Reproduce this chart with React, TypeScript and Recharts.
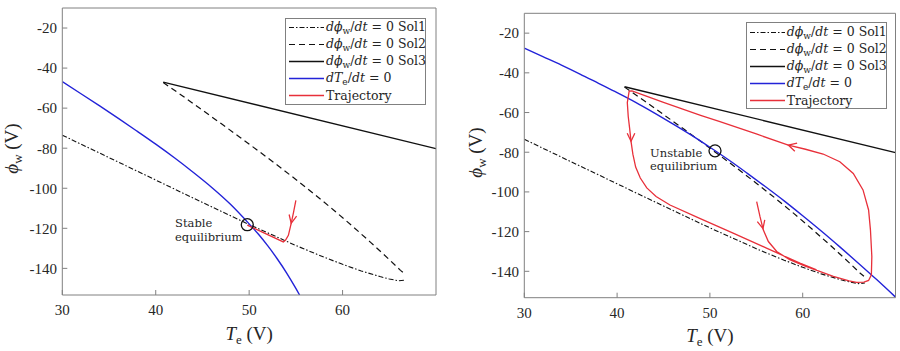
import React from "react";
import { LineChart, Line, XAxis, YAxis, ReferenceDot, Label } from "recharts";

const FONT = "Liberation Serif";
const NOTE_FONT = "DejaVu Serif";
const INK = "#262626";
const FRAME = "#808080";
const BLUE = "#2323d8";
const RED = "#e8303a";

// axes
const xDomain = [30, 70];
const yDomain = [-153.3, -10];
const xTicks = [30, 40, 50, 60];
const yTicks = [-140, -120, -100, -80, -60, -40, -20];

// d(phi_w)/dt = 0 branches, identical in both panels  [Te, phi_w]
const sol1 = [
  [30, -73.5], [35, -84.7], [40, -95.9], [45, -107.1], [50, -118.1], [55, -128.6],
  [58, -134.4], [60, -138.0], [62, -141.3], [64, -144.1], [65, -145.3], [66, -146.2], [66.7, -145.9],
];
const sol2 = [
  [40.8, -47.2], [43, -54.3], [45, -61.0], [47, -67.7], [49, -74.5], [51, -81.4], [53, -88.4],
  [55, -95.6], [57, -103.0], [59, -110.7], [61, -118.7], [63, -127.0], [65, -135.6], [66.2, -141.0], [66.6, -142.5],
];
const sol3 = [[40.8, -47.0], [70, -80.2]];

// dTe/dt = 0
const nullLeft = [
  [30, -46.8], [32, -52.8], [34, -58.9], [36, -65.1], [38, -71.5], [40, -78.0], [42, -84.8], [44, -92.0],
  [46, -99.6], [48, -108.0], [50, -117.8], [51, -123.0], [52, -128.8], [53, -135.2], [54, -142.2], [55, -150.0], [55.4, -153.3],
];
const nullRight = [
  [30, -27.5], [32, -31.8], [34, -36.1], [36, -40.6], [38, -45.3], [40, -50.0], [42, -54.9], [44, -60.2],
  [46, -65.7], [48, -71.4], [50, -77.5], [52, -83.8], [54, -90.5], [56, -97.4], [58, -104.5], [60, -112.0],
  [62, -119.7], [64, -127.7], [66, -135.9], [68, -144.3], [70, -153.0],
];

// trajectories
const trajLeft = [
  [55.0, -106], [54.75, -112], [54.5, -117.5], [54.2, -123.5], [53.9, -125.9], [53.66, -126.8], [49.8, -118.4],
];
const trajRight = [
  [55.04, -104.9], [55.4, -112.5], [55.75, -119.1], [56.3, -125.0], [57.2, -130.0], [58.6, -134.2], [60.2, -137.3],
  [63.3, -142.6], [65.0, -144.8], [65.8, -145.6], [66.6, -145.5], [67.1, -144.6], [67.4, -141.8], [67.45, -132.6],
  [67.3, -119.1], [67.1, -109.1], [66.5, -99.0], [65.45, -90.7], [64.0, -84.8], [62.2, -80.9], [60.3, -78.5],
  [58.45, -76.4], [55, -70.8], [53, -67.6], [51, -64.5], [49, -61.4], [47, -58.2], [45, -54.9], [43, -51.5],
  [41.6, -49.1], [41.3, -49.2], [41.1, -55], [41.2, -62], [41.35, -68], [41.5, -74.5], [41.7, -81], [42.0, -87.5],
  [42.5, -93], [43.2, -98], [44.2, -102.3], [45.7, -106.6], [48.9, -113.3], [52.5, -120.8], [56.1, -128.3],
  [59.7, -135.9], [61.5, -139.3],
];

// arrow heads on the trajectories: arm, tip, arm
const arrowsLeft = [[[55.08, -113.9], [54.5, -117.5], [54.28, -113.1]]];
const arrowsRight = [
  [[59.15, -79.5], [58.45, -76.4], [59.4, -75.4]],
  [[41.09, -70.4], [41.5, -74.5], [41.91, -70.4]],
  [[55.91, -114.1], [55.72, -118.5], [55.11, -115.0]],
];

// equilibria and their notes
const eqLeft = [49.8, -118.2];
const eqRight = [50.55, -79.3];
const noteLeft = [42.07, -119.5];
const noteRight = [43.55, -82.3];
const noteLeftText = ["Stable", "equilibrium"];
const noteRightText = ["Unstable", "equilibrium"];

const solNames = ["Sol1", "Sol2", "Sol3"];

const toPts = (arr: number[][]) => arr.map(([x, y]) => ({ x, y }));

const tickStyle = { fill: INK, fontSize: 15, fontFamily: FONT };

const xLabel = (props: any) => {
  const vb = props.viewBox;
  return (
    <text x={vb.x + vb.width / 2} y={vb.y + 44.5} textAnchor="middle" fontFamily={FONT} fontSize={19} fill={INK}>
      <tspan fontStyle="italic">T</tspan>
      <tspan fontSize={13} dy={4}>e</tspan>
      <tspan dy={-4}>{"\u00a0(V)"}</tspan>
    </text>
  );
};

const yLabel = (x: number) => (props: any) => {
  const vb = props.viewBox;
  const cy = vb.y + vb.height / 2 - 3;
  return (
    <text x={x} y={cy} transform={`rotate(-90 ${x} ${cy})`} textAnchor="middle" fontFamily={FONT} fontSize={19} fill={INK}>
      <tspan fontStyle="italic">ϕ</tspan>
      <tspan fontSize={13} dy={4}>w</tspan>
      <tspan dy={-4}>{"\u00a0(V)"}</tspan>
    </text>
  );
};

const noteLabel = (lines: string[]) => (props: any) => {
  const vb = props.viewBox;
  return (
    <g>
      {lines.map((l, i) => (
        <text key={i} x={vb.x} y={vb.y + i * 13.6} fontFamily={NOTE_FONT} fontSize={11.5} fill={INK}>{l}</text>
      ))}
    </g>
  );
};

const Sub = ({ children }: { children: React.ReactNode }) => (
  <span style={{ fontSize: 9, position: "relative", top: 3 }}>{children}</span>
);
const Eq = () => <span style={{ margin: "0 4px" }}>=</span>;

const phiText = (name: string) => (
  <>
    <i>dϕ</i><Sub>w</Sub>/<i>dt</i><Eq />0
    <span style={{ marginLeft: 4 }}>{name}</span>
  </>
);

const legendRows = [
  { dash: "5 2 1.5 2", color: "#111", width: 1.1, text: phiText(solNames[0]) },
  { dash: "6 4", color: "#111", width: 1.2, text: phiText(solNames[1]) },
  { dash: undefined, color: "#111", width: 1.4, text: phiText(solNames[2]) },
  { dash: undefined, color: BLUE, width: 1.4, text: <><i>dT</i><Sub>e</Sub>/<i>dt</i><Eq />0</> },
  { dash: undefined, color: RED, width: 1.4, text: <>Trajectory</> },
];

function LegendBox({ left, top }: { left: number; top: number }) {
  return (
    <div
      style={{
        position: "absolute", left, top, width: 141, height: 87, boxSizing: "border-box",
        border: `1px solid ${FRAME}`, background: "#fff", fontFamily: NOTE_FONT, fontSize: 12.5, color: INK,
        paddingTop: 0.5, lineHeight: "17px",
      }}
    >
      {legendRows.map((r, i) => (
        <div key={i} style={{ display: "flex", alignItems: "center", height: 17, whiteSpace: "nowrap" }}>
          <svg width={39} height={17} style={{ flex: "none" }}>
            <line x1={3} x2={38} y1={8.5} y2={8.5} stroke={r.color} strokeWidth={r.width} strokeDasharray={r.dash} />
          </svg>
          <span style={{ marginLeft: 1 }}>{r.text}</span>
        </div>
      ))}
    </div>
  );
}

type PanelProps = {
  left: number;
  margin: { top: number; right: number; bottom: number; left: number };
  yLabelX: number;
  nullcline: number[][];
  traj: number[][];
  arrows: number[][][];
  eq: number[];
  note: number[];
  noteText: string[];
  legend: { left: number; top: number };
};

function Panel(p: PanelProps) {
  return (
    <div style={{ position: "absolute", left: p.left, top: 0, width: 450, height: 351 }}>
      <LineChart width={450} height={351} margin={p.margin}>
        <XAxis
          dataKey="x" type="number" domain={xDomain} ticks={xTicks} allowDataOverflow
          tickSize={-5} tickMargin={14.5} height={40} stroke={FRAME} tick={tickStyle}
        >
          <Label content={xLabel} />
        </XAxis>
        <XAxis
          xAxisId="top" orientation="top" dataKey="x" type="number" domain={xDomain} ticks={xTicks}
          allowDataOverflow tickSize={-5} height={1} stroke={FRAME} tick={false}
        />
        <YAxis
          type="number" domain={yDomain} ticks={yTicks} allowDataOverflow
          tickSize={-5} tickMargin={10.3} width={55} stroke={FRAME} tick={tickStyle}
        >
          <Label content={yLabel(p.yLabelX)} />
        </YAxis>
        <YAxis
          yAxisId="right" orientation="right" type="number" domain={yDomain} ticks={yTicks}
          allowDataOverflow tickSize={-5} width={1} stroke={FRAME} tick={false}
        />
        <Line data={toPts(sol1)} dataKey="y" type="linear" stroke="#111" strokeWidth={1.1}
          strokeDasharray="5 2 1.5 2" dot={false} isAnimationActive={false} />
        <Line data={toPts(sol2)} dataKey="y" type="linear" stroke="#111" strokeWidth={1.2}
          strokeDasharray="6 4" dot={false} isAnimationActive={false} />
        <Line data={toPts(sol3)} dataKey="y" type="linear" stroke="#111" strokeWidth={1.4}
          dot={false} isAnimationActive={false} />
        <Line data={toPts(p.nullcline)} dataKey="y" type="monotone" stroke={BLUE} strokeWidth={1.4}
          dot={false} isAnimationActive={false} />
        <Line data={toPts(p.traj)} dataKey="y" type="linear" stroke={RED} strokeWidth={1.3}
          dot={false} isAnimationActive={false} />
        {p.arrows.map((a, i) => (
          <Line key={i} data={toPts(a)} dataKey="y" type="linear" stroke={RED} strokeWidth={1.3}
            dot={false} isAnimationActive={false} />
        ))}
        <ReferenceDot x={p.eq[0]} y={p.eq[1]} r={6} fill="none" stroke="#111" strokeWidth={1.3} />
        <ReferenceDot x={p.note[0]} y={p.note[1]} r={0} stroke="none" label={{ content: noteLabel(p.noteText) } as any} />
      </LineChart>
      <LegendBox {...p.legend} />
    </div>
  );
}

export default function App() {
  return (
    <div style={{ position: "absolute", left: 0, top: 0, width: 900, height: 351, background: "#fff" }}>
      <Panel
        left={0}
        margin={{ top: 7, right: 13, bottom: 16, left: 7.3 }}
        yLabelX={17.8}
        nullcline={nullLeft}
        traj={trajLeft}
        arrows={arrowsLeft}
        eq={eqLeft}
        note={noteLeft}
        noteText={noteLeftText}
        legend={{ left: 285, top: 17.7 }}
      />
      <Panel
        left={450}
        margin={{ top: 12.3, right: 3.5, bottom: 13.3, left: 19.3 }}
        yLabelX={31.5}
        nullcline={nullRight}
        traj={trajRight}
        arrows={arrowsRight}
        eq={eqRight}
        note={noteRight}
        noteText={noteRightText}
        legend={{ left: 295.7, top: 22.3 }}
      />
    </div>
  );
}
